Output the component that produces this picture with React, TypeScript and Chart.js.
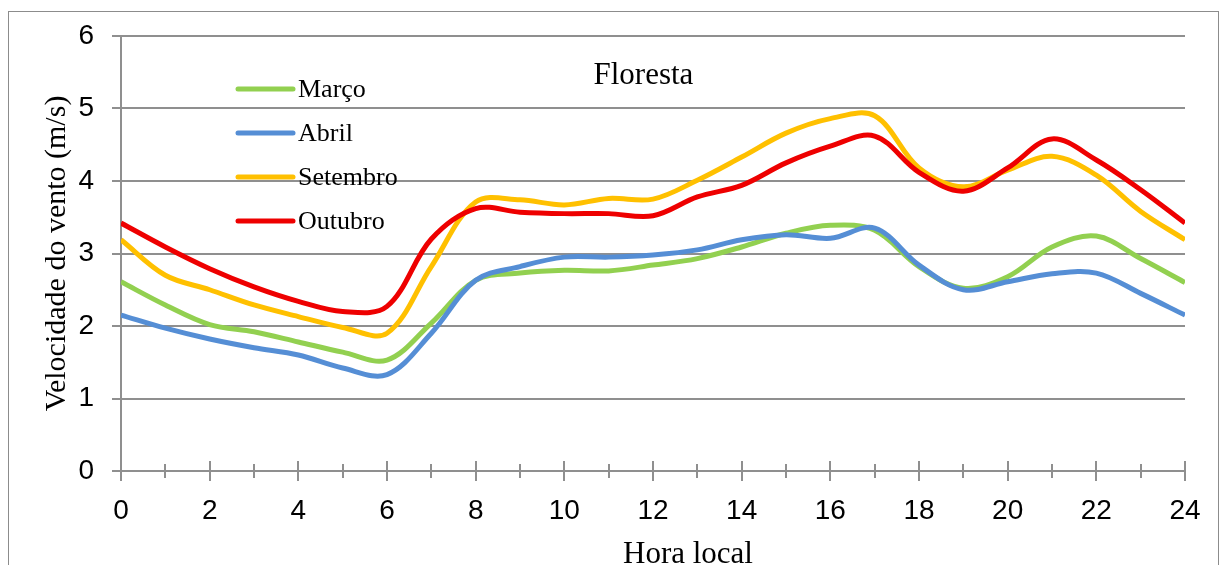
import React, { useEffect, useRef } from "react";
import { Chart, registerables } from "chart.js";

Chart.register(...registerables);

const hours = [0, 1, 2, 3, 4, 5, 6, 7, 8, 9, 10, 11, 12, 13, 14, 15, 16, 17, 18, 19, 20, 21, 22, 23, 24];
const marco = [2.61, 2.29, 2.02, 1.92, 1.78, 1.64, 1.53, 2.04, 2.63, 2.73, 2.77, 2.76, 2.84, 2.93, 3.09, 3.28, 3.39, 3.32, 2.82, 2.52, 2.68, 3.09, 3.24, 2.93, 2.6];
const abril = [2.15, 1.97, 1.82, 1.7, 1.6, 1.42, 1.33, 1.9, 2.63, 2.82, 2.95, 2.95, 2.98, 3.05, 3.19, 3.26, 3.21, 3.35, 2.84, 2.5, 2.61, 2.72, 2.73, 2.45, 2.15];
const setembro = [3.19, 2.7, 2.5, 2.29, 2.13, 1.98, 1.9, 2.82, 3.71, 3.74, 3.67, 3.76, 3.75, 4.01, 4.33, 4.66, 4.86, 4.9, 4.18, 3.92, 4.15, 4.34, 4.08, 3.58, 3.19];
const outubro = [3.42, 3.09, 2.79, 2.54, 2.34, 2.2, 2.27, 3.2, 3.62, 3.57, 3.55, 3.55, 3.52, 3.78, 3.94, 4.25, 4.48, 4.62, 4.12, 3.86, 4.18, 4.58, 4.29, 3.88, 3.42];

const seriesNames = ["Março", "Abril", "Setembro", "Outubro"];
const seriesColors = ["#92D050", "#558ED5", "#FFC000", "#EE0000"];
const seriesValues = [marco, abril, setembro, outubro];
const chartTitle = "Floresta";
const xTitle = "Hora local";
const yTitle = "Velocidade do vento (m/s)";

const SERIF = "'Liberation Serif', 'Times New Roman', serif";
const SANS = "'Liberation Sans', Arial, sans-serif";
const GRID = "#8f8f8f";

const overlayPlugin = {
  id: "overlay",
  afterDatasetsDraw(chart: any) {
    const { ctx, chartArea, scales } = chart;
    const xs = scales.x;
    const ys = scales.y;
    const y0 = ys.getPixelForValue(0);
    ctx.save();
    // x-axis crossing tick marks
    ctx.strokeStyle = GRID;
    ctx.lineWidth = 2;
    for (const h of hours) {
      const px = Math.round(xs.getPixelForValue(h));
      const len = h % 2 === 0 ? 10 : 7;
      ctx.beginPath();
      ctx.moveTo(px, y0 - len);
      ctx.lineTo(px, y0 + len);
      ctx.stroke();
    }
    const cx = (chartArea.left + chartArea.right) / 2;
    // title inside plot
    ctx.fillStyle = "#000";
    ctx.font = `31px ${SERIF}`;
    ctx.textAlign = "center";
    ctx.textBaseline = "middle";
    ctx.fillText(chartTitle, chartArea.left + 0.491 * (chartArea.right - chartArea.left), chartArea.top + 40);
    // x axis title
    ctx.font = `31px ${SERIF}`;
    ctx.textBaseline = "alphabetic";
    ctx.fillText(xTitle, cx + 35, chartArea.bottom + 92);
    // legend
    ctx.font = `26px ${SERIF}`;
    ctx.textAlign = "left";
    ctx.textBaseline = "middle";
    seriesNames.forEach((name, i) => {
      const yy = chartArea.top + 53 + i * 44;
      ctx.strokeStyle = seriesColors[i];
      ctx.lineWidth = 5;
      ctx.lineCap = "round";
      ctx.beginPath();
      ctx.moveTo(chartArea.left + 117, yy);
      ctx.lineTo(chartArea.left + 172, yy);
      ctx.stroke();
      ctx.fillStyle = "#000";
      ctx.fillText(name, chartArea.left + 177, yy + 1);
    });
    ctx.restore();
  },
};

export default function App() {
  const ref = useRef<HTMLCanvasElement | null>(null);
  useEffect(() => {
    if (!ref.current) return;
    const chart = new Chart(ref.current, {
      type: "line",
      data: {
        datasets: seriesNames.map((name, i) => ({
          label: name,
          data: hours.map((h, k) => ({ x: h, y: seriesValues[i][k] })),
          borderColor: seriesColors[i],
          backgroundColor: seriesColors[i],
          borderWidth: 5,
          pointRadius: 0,
          tension: 0.35,
          fill: false,
          order: seriesNames.length - 1 - i,
        })),
      },
      options: {
        animation: false,
        responsive: false,
        layout: { padding: { left: 0, right: 33, top: 24, bottom: 0 } },
        plugins: { legend: { display: false }, title: { display: false }, tooltip: { enabled: false } },
        scales: {
          x: {
            type: "linear",
            min: 0,
            max: 24,
            grid: { display: false },
            border: { display: false },
            ticks: { stepSize: 2, color: "#000", font: { family: SANS, size: 28 }, padding: 15, maxRotation: 0 },
            title: { display: false, text: xTitle },
            afterFit: (s: any) => { s.height = 110; },
          },
          y: {
            min: 0,
            max: 6,
            grid: { color: GRID, lineWidth: 2, tickLength: 9, drawTicks: true },
            border: { display: true, color: GRID, width: 2 },
            ticks: { stepSize: 1, color: "#000", font: { family: SANS, size: 28 }, padding: 18 },
            title: { display: true, text: yTitle, color: "#000", font: { family: SERIF, size: 30 }, padding: { top: 30, bottom: 0 } },
            afterFit: (s: any) => { s.width = 112; s.paddingTop = 0; s.paddingBottom = 0; },
          },
        },
      },
      plugins: [overlayPlugin],
    });
    return () => chart.destroy();
  }, []);
  return (
    <div
      style={{
        position: "fixed",
        left: 8,
        top: 11,
        width: 1211,
        height: 572,
        boxSizing: "border-box",
        border: "1px solid #8c8c8c",
        background: "#fff",
      }}
    >
      <canvas ref={ref} width={1209} height={569} style={{ display: "block", width: 1209, height: 569 }} />
    </div>
  );
}
